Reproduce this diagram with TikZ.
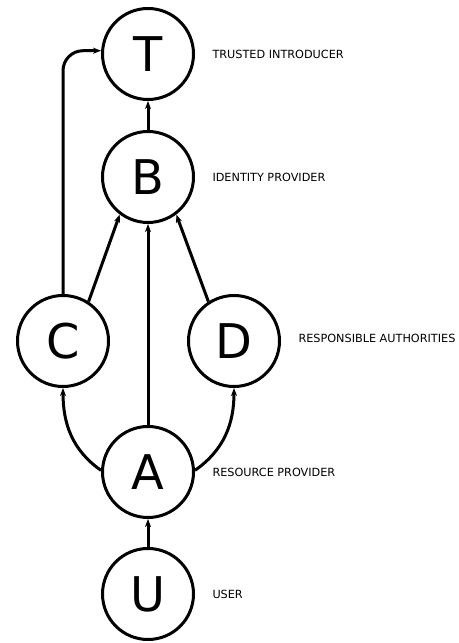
\documentclass[tikz,border=0pt]{standalone}
\usepackage{fontspec}
\setmainfont{DejaVu Sans}
\usetikzlibrary{arrows.meta}
\begin{document}
\begin{tikzpicture}[x=0.5mm,y=0.5mm,line width=1.5mm,
		party/.style={draw,circle,minimum size=45.5mm,inner sep=0pt,font=\fontsize{68}{72}\selectfont},
		role/.style={anchor=west,inner sep=0pt,font=\fontsize{16}{18}\selectfont},
		trust/.style={-{Stealth[length=4mm,width=3mm,inset=1.2mm]}}]
		\useasboundingbox (0,0) rectangle (458,643);
		% Parties
		\node[party] (T) at (148,589) {T};
		\node[party] (B) at (148,466) {B};
		\node[party] (C) at (63,302) {C};
		\node[party] (D) at (234,302) {D};
		\node[party] (A) at (148,171) {A};
		\node[party] (U) at (148,49) {U};
		% Roles
		\node[role] (rT) at (211,589) {TRUSTED INTRODUCER};
		\node[role] (rB) at (211,466) {IDENTITY PROVIDER};
		\node[role] (rD) at (297,305) {RESPONSIBLE AUTHORITIES};
		\node[role] (rA) at (211,171) {RESOURCE PROVIDER};
		\node[role] (rU) at (211,49) {USER};
		% Trust links
		\draw[trust] (B) -- (T);
		\draw[trust,rounded corners=10mm] (C.north) |- (T.176);
		\draw[trust] (C.57) -- (B.233);
		\draw[trust] (D.123) -- (B.307);
		\draw[trust] (A) -- (B);
		\draw[trust] (A.178) to[out=145,in=-90] (C.south);
		\draw[trust] (A.2) to[out=35,in=-90] (D.south);
		\draw[trust] (U) -- (A);
\end{tikzpicture}
\end{document}
